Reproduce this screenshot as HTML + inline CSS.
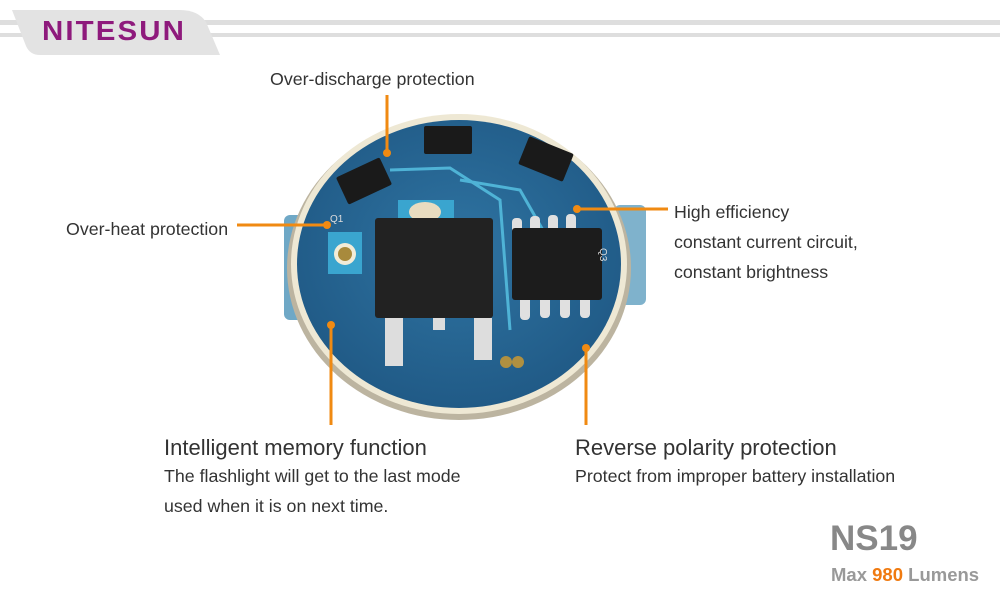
<!DOCTYPE html>
<html><head><style>
body{margin:0;background:#fff;}
svg{display:block;font-family:"Liberation Sans",Arial,sans-serif;}
</style></head><body>
<svg width="1000" height="600" viewBox="0 0 1000 600">
<defs>
<radialGradient id="pcb" cx="0.5" cy="0.45" r="0.6">
<stop offset="0" stop-color="#2f74a2"/><stop offset="1" stop-color="#1f5884"/>
</radialGradient>
</defs>
<!-- header -->
<rect x="0" y="20" width="1000" height="5" fill="#dedede"/>
<rect x="0" y="33" width="1000" height="4" fill="#dedede"/>
<path d="M12,10 L180,10 Q198,10 206,22 L220,55 L40,55 Q30,55 26,46 Z" fill="#e3e3e3"/>
<text x="42" y="40" font-size="28" font-weight="bold" fill="#8e1a7c" letter-spacing="2" textLength="144" lengthAdjust="spacingAndGlyphs">NITESUN</text>
<!-- board -->
<rect x="284" y="215" width="20" height="105" rx="6" fill="#6fa8c6"/>
<rect x="614" y="205" width="32" height="100" rx="6" fill="#7fb2cc"/>
<ellipse cx="459" cy="268" rx="172" ry="152" fill="#bcb4a0"/>
<ellipse cx="459" cy="264" rx="168" ry="150" fill="#eee8d4"/>
<ellipse cx="459" cy="264" rx="162" ry="144" fill="url(#pcb)"/>
<!-- traces -->
<path d="M390,170 L450,168 L500,200 L510,330" stroke="#4fb3d6" stroke-width="3" fill="none"/>
<path d="M460,180 L520,190 L560,260" stroke="#4fb3d6" stroke-width="3" fill="none"/>
<rect x="398" y="200" width="56" height="36" fill="#3aa5cf"/>
<ellipse cx="425" cy="212" rx="16" ry="10" fill="#e8dcc0"/>
<rect x="328" y="232" width="34" height="42" fill="#3aa5cf"/>
<circle cx="345" cy="254" r="11" fill="#f2ecd8"/><circle cx="345" cy="254" r="7" fill="#a88a3c"/>
<!-- big chip -->
<rect x="375" y="218" width="118" height="100" rx="3" fill="#222"/>
<rect x="385" y="318" width="18" height="48" fill="#ddd"/>
<rect x="474" y="318" width="18" height="42" fill="#ddd"/>
<rect x="433" y="318" width="12" height="12" fill="#ddd"/>
<circle cx="506" cy="362" r="6" fill="#b09040"/><circle cx="518" cy="362" r="6" fill="#b09040"/>
<!-- SOIC -->
<g fill="#e0e0e0"><rect x="512" y="218" width="10" height="18" rx="4"/><rect x="530" y="216" width="10" height="18" rx="4"/><rect x="548" y="215" width="10" height="18" rx="4"/><rect x="566" y="214" width="10" height="18" rx="4"/>
<rect x="520" y="296" width="10" height="24" rx="4"/><rect x="540" y="294" width="10" height="24" rx="4"/><rect x="560" y="294" width="10" height="24" rx="4"/><rect x="580" y="294" width="10" height="24" rx="4"/></g>
<rect x="512" y="228" width="90" height="72" rx="3" fill="#1c1c1c"/>
<!-- SOT chips -->
<rect x="424" y="126" width="48" height="28" rx="2" fill="#1a1a1a"/>
<rect x="340" y="166" width="48" height="30" rx="2" fill="#1a1a1a" transform="rotate(-25 364 181)"/>
<rect x="522" y="144" width="48" height="30" rx="2" fill="#1a1a1a" transform="rotate(22 546 159)"/>
<text x="330" y="222" font-size="10" fill="#ddd">Q1</text>
<text x="596" y="252" font-size="10" fill="#ddd" transform="rotate(90 600 252)">Q3</text>
<!-- callouts -->
<g stroke="#f08a12" stroke-width="3" fill="none">
<line x1="387" y1="95" x2="387" y2="153"/>
<line x1="237" y1="225" x2="327" y2="225"/>
<line x1="577" y1="209" x2="668" y2="209"/>
<line x1="331" y1="325" x2="331" y2="425"/>
<line x1="586" y1="348" x2="586" y2="425"/>
</g>
<g fill="#f08a12"><circle cx="387" cy="153" r="4"/><circle cx="327" cy="225" r="4"/><circle cx="577" cy="209" r="4"/><circle cx="331" cy="325" r="4"/><circle cx="586" cy="348" r="4"/></g>
<!-- text -->
<g fill="#333" font-size="17.8">
<text x="270" y="85">Over-discharge protection</text>
<text x="66" y="235">Over-heat protection</text>
<text x="674" y="218">High efficiency</text>
<text x="674" y="248">constant current circuit,</text>
<text x="674" y="278">constant brightness</text>
<text x="164" y="482">The flashlight will get to the last mode</text>
<text x="164" y="512">used when it is on next time.</text>
<text x="575" y="482">Protect from improper battery installation</text>
</g>
<text x="164" y="455" font-size="22" fill="#333">Intelligent memory function</text>
<text x="575" y="455" font-size="22" fill="#333">Reverse polarity protection</text>
<text x="830" y="550" font-size="35" font-weight="bold" fill="#888">NS19</text>
<text x="831" y="581" font-size="18.5" font-weight="bold" fill="#999">Max <tspan fill="#f07a10">980</tspan> Lumens</text>
</svg>
</body></html>
